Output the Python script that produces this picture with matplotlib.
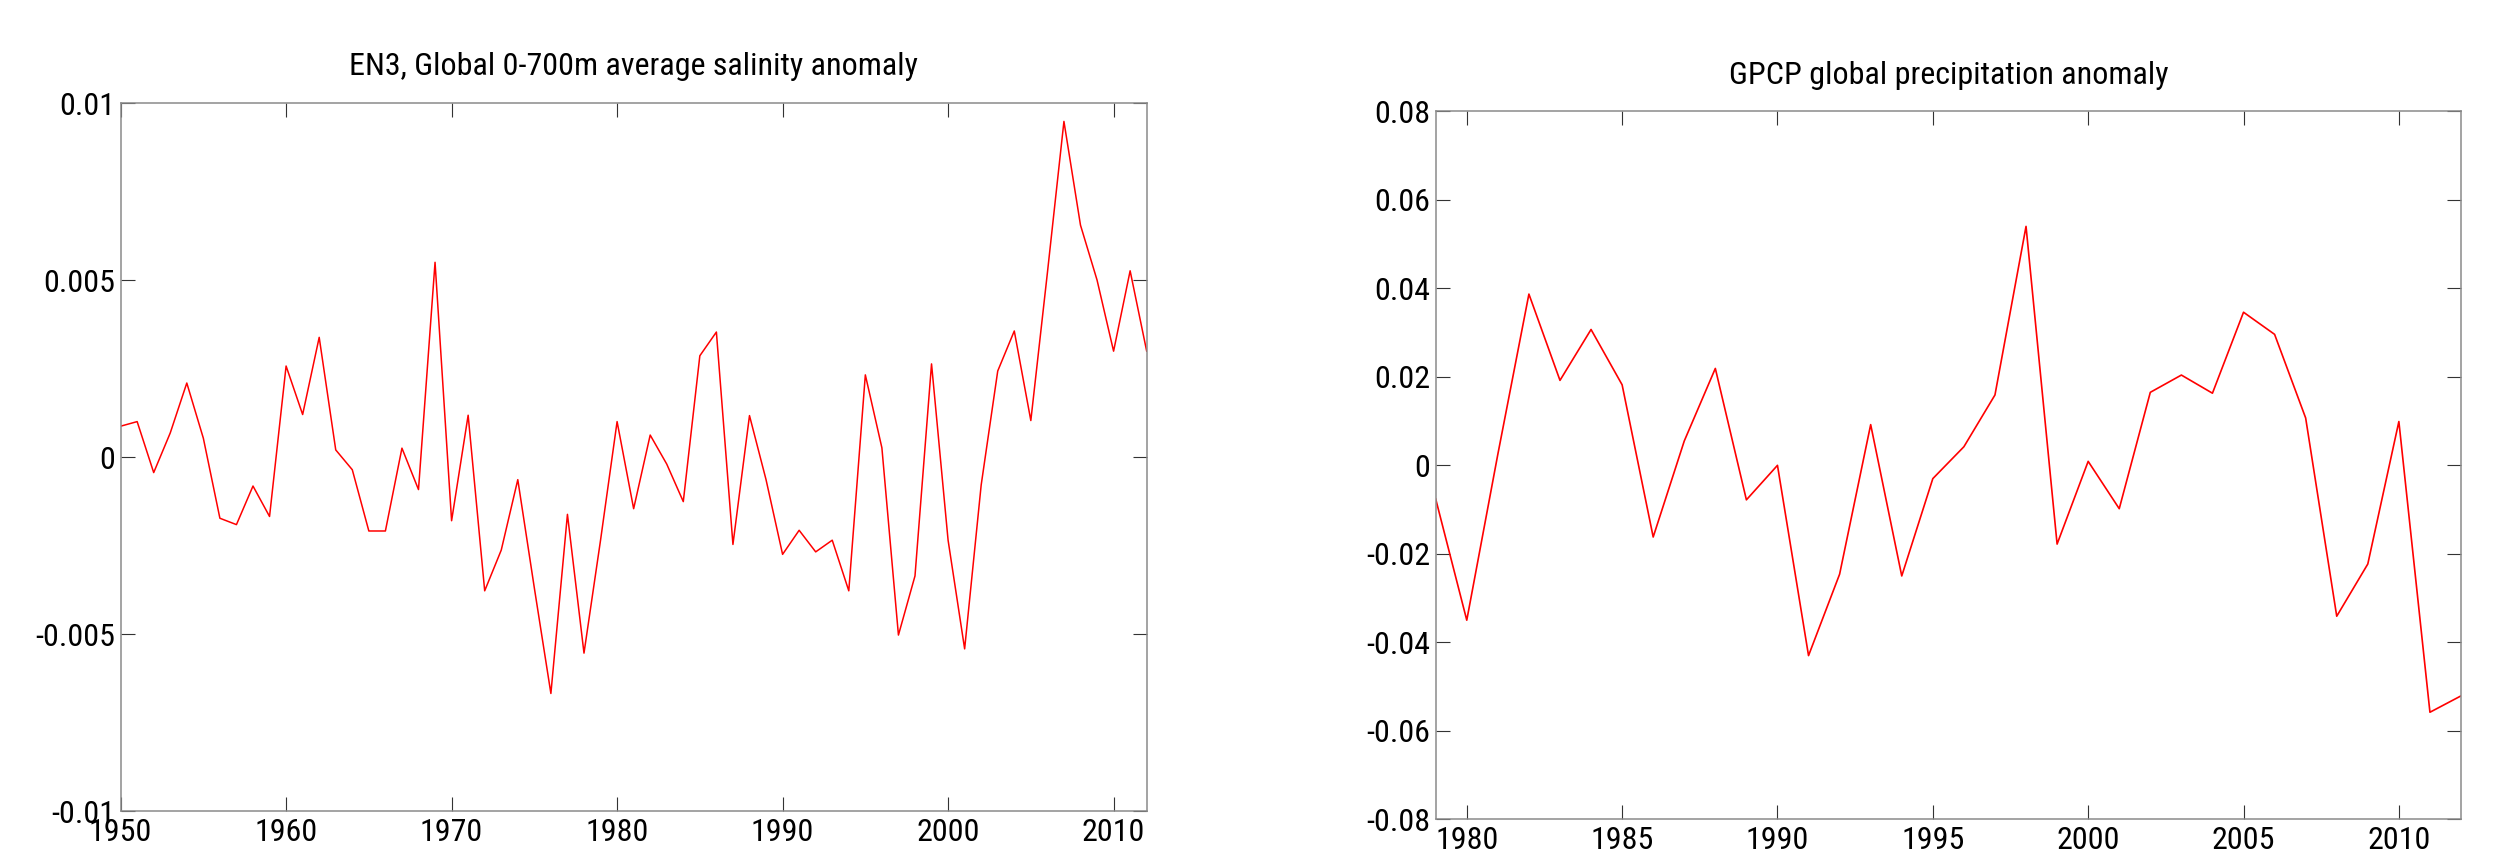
import matplotlib
matplotlib.use("Agg")
import matplotlib.pyplot as plt
from matplotlib import font_manager

# ---------------- data ----------------
sal_years = list(range(1950, 2013))
sal_values = [
    0.00087, 0.00100, -0.00044, 0.00068, 0.00209, 0.00053, -0.00173, -0.00191,
    -0.00082, -0.00168, 0.00257, 0.00120, 0.00338, 0.00020, -0.00036, -0.00209,
    -0.00209, 0.00025, -0.00092, 0.00550, -0.00180, 0.00118, -0.00378, -0.00263,
    -0.00064, -0.00370, -0.00668, -0.00162, -0.00554, -0.00235, 0.00100, -0.00146,
    0.00062, -0.00020, -0.00126, 0.00286, 0.00353, -0.00247, 0.00117, -0.00064,
    -0.00275, -0.00207, -0.00268, -0.00235, -0.00378, 0.00232, 0.00026, -0.00503,
    -0.00336, 0.00263, -0.00235, -0.00542, -0.00079, 0.00243, 0.00356, 0.00103,
    0.00520, 0.00948, 0.00655, 0.00500, 0.00299, 0.00526, 0.00299,
]
sal_title = "EN3, Global 0-700m average salinity anomaly"
sal_xticks = [1950, 1960, 1970, 1980, 1990, 2000, 2010]
sal_yticks = [-0.01, -0.005, 0, 0.005, 0.01]
sal_yticklabels = ["-0.01", "-0.005", "0", "0.005", "0.01"]

pr_years = list(range(1979, 2013))
pr_values = [
    -0.0076, -0.0350, 0.0025, 0.0387, 0.0192, 0.0307, 0.0182, -0.0162,
    0.0055, 0.0219, -0.0078, 0.0000, -0.0430, -0.0246, 0.0092, -0.0250,
    -0.0030, 0.0042, 0.0159, 0.0540, -0.0178, 0.0009, -0.0098, 0.0165,
    0.0204, 0.0163, 0.0346, 0.0296, 0.0107, -0.0341, -0.0223, 0.0099,
    -0.0558, -0.0521,
]
pr_title = "GPCP global precipitation anomaly"
pr_xticks = [1980, 1985, 1990, 1995, 2000, 2005, 2010]
pr_yticks = [-0.08, -0.06, -0.04, -0.02, 0, 0.02, 0.04, 0.06, 0.08]
pr_yticklabels = ["-0.08", "-0.06", "-0.04", "-0.02", "0", "0.02", "0.04", "0.06", "0.08"]

# ---------------- style ----------------
names = {f.name for f in font_manager.fontManager.ttflist}
narrow = [n for n in ["Liberation Sans Narrow", "Roboto Condensed", "Noto Sans Condensed",
                      "Open Sans Condensed", "DejaVu Sans Condensed"] if n in names]
if narrow:
    fam = [narrow[0], "Liberation Sans", "DejaVu Sans"]
    FS, TFS = 23, 23
else:
    fam = ["Liberation Sans", "DejaVu Sans"]
    FS, TFS = 19, 20.5
plt.rcParams["font.family"] = fam

fig = plt.figure(figsize=(25.01, 8.64), dpi=100)
fig.patch.set_facecolor("white")

ax1 = fig.add_axes([0.04822, 0.06134, 0.41027, 0.81944])
ax2 = fig.add_axes([0.57405, 0.0517, 0.40996, 0.81944])


def style(ax, xlim, ylim, xticks, yticks, yticklabels, title):
    ax.set_xlim(*xlim)
    ax.set_ylim(*ylim)
    ax.set_xticks(xticks)
    ax.set_xticklabels([str(t) for t in xticks])
    ax.set_yticks(yticks)
    ax.set_yticklabels(yticklabels)
    for s in ax.spines.values():
        s.set_color("#8a8a8a")
        s.set_linewidth(1.1)
    ax.tick_params(direction="in", length=10, width=0.8, color="#333333",
                   top=True, right=True, labelsize=FS, labelcolor="black")
    ax.tick_params(axis="x", pad=5)
    ax.tick_params(axis="y", pad=4)
    ax.set_title(title, fontsize=TFS, pad=20, color="black")


ax1.plot(sal_years, sal_values, color="red", lw=1.1)
style(ax1, (1950, 2012), (-0.01, 0.01), sal_xticks, sal_yticks, sal_yticklabels, sal_title)

ax2.plot(pr_years, pr_values, color="red", lw=1.2)
style(ax2, (1979, 2012), (-0.08, 0.08), pr_xticks, pr_yticks, pr_yticklabels, pr_title)

fig.savefig("out.png", dpi=100, facecolor="white")
